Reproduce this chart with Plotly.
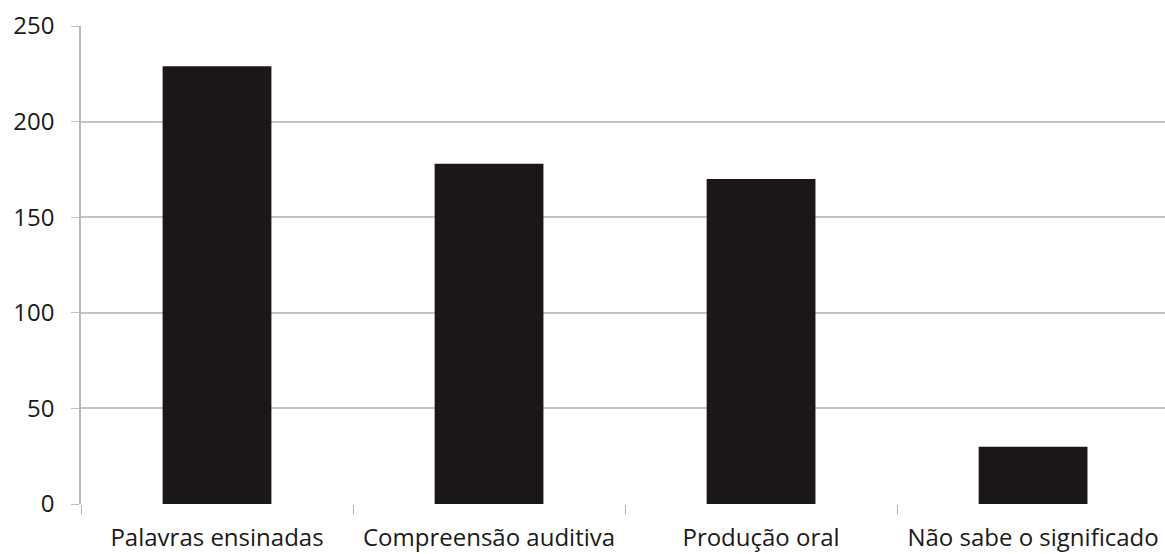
import plotly.graph_objects as go

categories = ["Palavras ensinadas", "Compreensão auditiva", "Produção oral", "Não sabe o significado"]
values = [229, 178, 170, 30]
y_ticks = [0, 50, 100, 150, 200, 250]

fig = go.Figure(go.Bar(x=categories, y=values, marker=dict(color="#1b1716", line=dict(width=0)), width=0.4))

fig.update_layout(
    width=1165, height=554,
    margin=dict(l=81, r=0, t=26, b=50),
    plot_bgcolor="white", paper_bgcolor="white",
    showlegend=False,
    font=dict(family="Open Sans", size=24, color="#1a1a1a"),
)
fig.update_xaxes(
    type="category", range=[-0.5, 3.485],
    tickson="boundaries", ticks="outside", ticklen=9, tickcolor="#b0b0b0", tickwidth=1,
    showline=False, showgrid=False, tickfont=dict(size=24), ticklabelstandoff=17,
)
fig.update_yaxes(
    range=[0, 250], tickvals=y_ticks, ticks="outside", ticklen=8, tickcolor="#c0c0c0",
    showgrid=True, gridcolor="#c4c4c4", gridwidth=1.5,
    showline=True, linecolor="#b8b8b8", linewidth=1.5,
    zeroline=False, tickfont=dict(size=24), ticklabelstandoff=12,
)
fig.write_html("out.html")
